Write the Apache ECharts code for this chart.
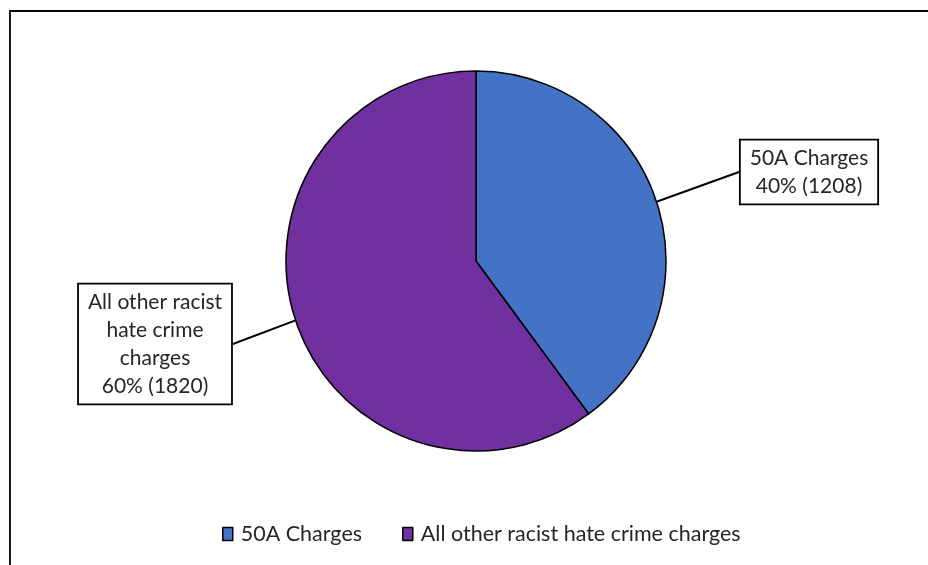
<!DOCTYPE html>
<html>
<head>
<meta charset="utf-8">
<script src="https://cdn.jsdelivr.net/npm/echarts@6/dist/echarts.min.js"></script>
<style>
html,body{margin:0;padding:0;background:#fff;}
#c{width:928px;height:565px;}
</style>
</head>
<body>
<div id="c"></div>
<script>
const categories = ['50A Charges', 'All other racist hate crime charges'];
const values = [1208, 1820];
const colors = ['#4472C4', '#7030A0'];
const labelLines = [['50A Charges'], ['All other racist', 'hate crime', 'charges']];

const chart = echarts.init(document.getElementById('c'));
const FONT = 'Lato';
chart.setOption({
  animation: false,
  backgroundColor: '#fff',
  graphic: [{
    type: 'rect',
    shape: { x: 10, y: 11, width: 940, height: 580 },
    style: { fill: 'none', stroke: '#000', lineWidth: 1.8 },
    silent: true, z: -1
  }],
  legend: {
    top: 518,
    left: 217,
    itemWidth: 10,
    itemHeight: 13,
    itemGap: 40,
    icon: 'rect',
    textStyle: { fontFamily: FONT, fontSize: 21.5, color: '#262626', padding: [0, 0, 0, 3] },
    itemStyle: { borderColor: '#000', borderWidth: 1.5 },
    data: categories
  },
  series: [{
    type: 'pie',
    center: [476, 261],
    radius: [0, 190],
    startAngle: 90,
    clockwise: true,
    data: categories.map((n, i) => ({ name: n, value: values[i], itemStyle: { color: colors[i] } })),
    itemStyle: { borderColor: '#000', borderWidth: 1.5 },
    label: {
      show: true,
      position: 'outside',
      fontFamily: FONT,
      fontSize: 21,
      lineHeight: 28,
      color: '#262626',
      align: 'center',
      backgroundColor: '#fff',
      borderColor: '#000',
      borderWidth: 1.8,
      padding: [4, 9, 3, 9],
      formatter: p => labelLines[p.dataIndex].join('\n') + '\n' + Math.round(p.percent) + '% (' + p.value + ')'
    },
    labelLine: { show: true, lineStyle: { color: '#000', width: 2 }, length: 20, length2: 0 },
    labelLayout: function (params) {
      if (params.dataIndex === 0) {
        return { x: 809, y: 172, align: 'center', verticalAlign: 'middle' };
      }
      return { x: 155, y: 344, align: 'center', verticalAlign: 'middle' };
    }
  }]
});
</script>
</body>
</html>
